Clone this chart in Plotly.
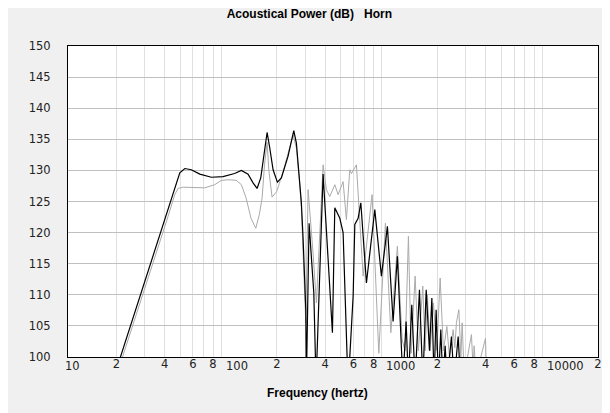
import numpy as np
import plotly.graph_objects as go

# Black curve (frequency in Hz, acoustical power in dB)
black_freq = [18, 21.2, 30, 40, 47.3, 49.7, 53.4, 58.6, 66.2, 78.2, 92.4, 109, 120.2, 132.3,
              142.1, 150.5, 158.7, 166.4, 173.8, 180.6, 189.4, 201.4, 213.3, 234.8, 254.8,
              264.5, 277.7, 284.1, 291.2, 298.4, 302.7, 305.3, 310.6, 317.4, 328.1, 339.6,
              347.5, 351, 388, 411, 443.5, 458.9, 493.1, 516.9, 542, 555.4, 569, 597, 611.4,
              641.2, 666.5, 722.3, 814.5, 895.4, 975.9, 1059, 1126, 1205, 1219, 1276, 1319,
              1384, 1452, 1545, 1622, 1702, 1784, 1846, 1907, 1963, 2029, 2099, 2160, 2234,
              2297, 2445, 2541, 2692, 2788, 2851, 3105]
black_db = [94.3, 100, 112.0, 121.9, 127.7, 129.6, 130.3, 130.1, 129.4, 128.9, 129.0, 129.5,
            130.0, 129.4, 128.0, 127.1, 128.8, 133.1, 136.1, 133.6, 130.1, 128.1, 128.8, 132.3,
            136.4, 134.4, 127.7, 124.8, 119.1, 111.4, 107.6, 96, 107, 121.5, 116, 110.3,
            100, 96, 129.4, 118.4, 103.9, 124.0, 122.3, 120, 100, 95, 100, 109.8, 121.3,
            122.3, 124.8, 111.9, 123.7, 113, 121, 105.7, 116.2, 100, 96, 105.7, 96,
            108.4, 96, 110.8, 96, 110.8, 101, 109.5, 96, 107.6, 96, 104.4, 96, 101.8,
            96, 103.3, 96, 103.3, 96, 99, 90]

# Grey curve
grey_freq = [18, 21.9, 30, 42, 46.2, 48.5, 52.1, 61, 71.1, 82, 90.2, 99.3, 111.8, 120.2,
             128.5, 138, 147.7, 155.5, 161.8, 167.5, 173.8, 178.5, 186.7, 199.5, 218.6,
             252.3, 264.5, 277.7, 284.1, 296, 302.7, 312.9, 326.6, 336, 352.6, 388, 406.8,
             427, 458.9, 481.2, 516.9, 542, 569, 582.3, 625.7, 688.7, 783.4, 862.6, 948.4,
             1025, 1126, 1205, 1258, 1319, 1371, 1452, 1522, 1621, 1676, 1732, 1800, 1888,
             1983, 2079, 2179, 2289, 2376, 2505, 2566, 2626, 2719, 2798, 2851, 2934, 3257,
             3337, 3385, 3483, 3984, 4051, 4446]
grey_db = [93.3, 100, 111.0, 122.6, 126.1, 127.1, 127.3, 127.2, 127.2, 127.7, 128.4, 128.5,
           128.4, 127.7, 125.6, 122.3, 120.7, 122.9, 125.6, 130.9, 134.5, 129.8, 125.7, 126.6,
           129.8, 135.7, 133.6, 127.7, 124, 112, 105.5, 126.9, 121, 116.7, 108.7, 130.9, 126.9,
           125.8, 127.7, 126.1, 128.2, 122.1, 130.1, 129.5, 130.9, 113, 126.1, 100.6, 121.5,
           103.9, 117.8, 102.8, 101, 119.4, 100.6, 113, 101, 111.4, 101, 110, 101, 108.7,
           101, 112.7, 101, 104.9, 100, 104.4, 101.5, 105.5, 107.6, 100, 105.5, 97, 103.6,
           98, 101.8, 97, 103, 96, 90]

# Axis ticks
x_tick_vals = [10, 20, 40, 60, 80, 100, 200, 400, 600, 800, 1000, 2000, 4000, 6000, 8000, 10000, 20000]
x_tick_text = ["10", "2", "4", "6", "8", "100", "2", "4", "6", "8", "1000", "2", "4", "6", "8", "10000", "2"]
decades = [10, 100, 1000, 10000]
multipliers = [2, 3, 4, 5, 6, 7, 8, 9]
x_minor_vals = [m * d for d in decades for m in multipliers if m * d < 20000]
y_tick_vals = [100, 105, 110, 115, 120, 125, 130, 135, 140, 145, 150]

tick_font = dict(family="DejaVu Sans", size=11.5, color="#222222")
bold_font = dict(family="Liberation Sans", size=12, color="#000000", weight="bold")

# single-digit labels on the axis; multi-digit labels start at their tick (first digit centred)
axis_labels = [t if len(t) == 1 else "" for t in x_tick_text]

fig = go.Figure()
fig.add_trace(go.Scatter(x=grey_freq, y=grey_db, mode="lines",
                         line=dict(color="#aaaaaa", width=1), hoverinfo="skip"))
fig.add_trace(go.Scatter(x=black_freq, y=black_db, mode="lines",
                         line=dict(color="#000000", width=1.2), hoverinfo="skip"))

for d in decades[1:]:
    fig.add_shape(type="line", xref="x", yref="y domain", x0=np.log10(d), x1=np.log10(d),
                  y0=0, y1=1, line=dict(color="#b0b0b0", width=1), layer="below")

for v, t in zip(x_tick_vals, x_tick_text):
    if len(t) > 1:
        fig.add_annotation(text=t, font=tick_font, showarrow=False,
                           xref="x", x=np.log10(v), xanchor="left", xshift=-4.7,
                           yref="paper", y=-(358 - 349) / 311, yanchor="middle")

fig.add_annotation(text="Frequency (hertz)", font=bold_font, showarrow=False,
                   xref="paper", x=(309 - 60) / 530, xanchor="center",
                   yref="paper", y=-(385 - 349) / 311, yanchor="middle")

fig.update_layout(
    width=610, height=413,
    paper_bgcolor="#f0f0f0", plot_bgcolor="#ffffff",
    margin=dict(l=60, r=20, t=38, b=64, autoexpand=False),
    showlegend=False,
    title=dict(text="Acoustical Power (dB)\u00a0\u00a0\u00a0Horn", font=bold_font,
               xref="container", x=0.494, xanchor="center",
               yref="container", y=1 - 6 / 413, yanchor="middle"),
    xaxis=dict(type="log", range=[1, np.log10(20000) + 1e-6],
               tickmode="array", tickvals=x_tick_vals, ticktext=axis_labels,
               tickangle=0,
               showgrid=False, zeroline=False,
               showline=True, linecolor="#000000", linewidth=1, mirror=True,
               ticks="", ticklabelstandoff=-4,
               tickfont=tick_font, automargin=False,
               minor=dict(tickmode="array", tickvals=x_minor_vals, showgrid=True,
                          gridcolor="#e0e0e0", gridwidth=1, ticks="")),
    yaxis=dict(range=[100, 150], tickmode="array", tickvals=y_tick_vals,
               showgrid=True, gridcolor="#c0c0c0", gridwidth=1, zeroline=False,
               showline=True, linecolor="#000000", linewidth=1, mirror=True,
               ticks="outside", ticklen=14, tickcolor="rgba(0,0,0,0)",
               tickfont=tick_font, automargin=False),
)

fig.write_html("out.html")
